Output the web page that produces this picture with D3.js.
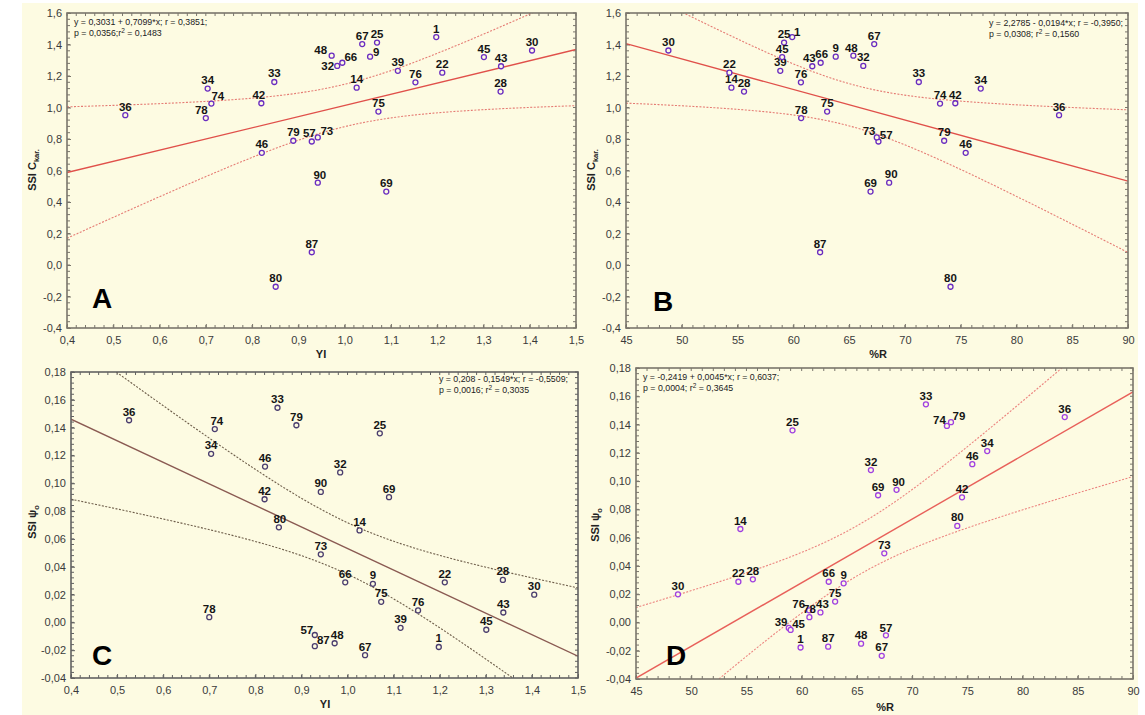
<!DOCTYPE html>
<html><head><meta charset="utf-8">
<script src="https://cdn.jsdelivr.net/npm/d3@7"></script>
<style>body{margin:0;background:#fff} svg{display:block} text{font-family:"Liberation Sans",Arial,sans-serif}</style>
</head><body><svg id="c" width="1145" height="715"></svg>
<script>
// ---------- DATA ----------
const ids      = [1, 9, 14, 22, 25, 28, 30, 32, 33, 34, 36, 39, 42, 43, 45, 46, 48, 57, 66, 67, 69, 73, 74, 75, 76, 78, 79, 80, 87, 90];
const yiValues = [1.198, 1.055, 1.026, 1.211, 1.070, 1.337, 1.405, 0.984, 0.848, 0.704, 0.526, 1.115, 0.820, 1.338, 1.301, 0.821, 0.972, 0.929, 0.995, 1.038, 1.090, 0.942, 0.712, 1.073, 1.153, 0.700, 0.889, 0.851, 0.929, 0.942];
const rValues  = [59.9, 63.8, 54.45, 54.27, 59.17, 55.58, 48.8, 66.27, 71.25, 76.8, 83.82, 58.83, 74.52, 61.7, 59.0, 75.45, 65.38, 67.63, 62.45, 67.25, 66.92, 67.48, 73.15, 63.03, 60.68, 60.7, 73.52, 74.09, 62.4, 68.59];
const ssiC     = [1.447, 1.323, 1.126, 1.221, 1.412, 1.101, 1.362, 1.264, 1.162, 1.120, 0.951, 1.233, 1.027, 1.262, 1.320, 0.712, 1.329, 0.784, 1.284, 1.403, 0.466, 0.810, 1.025, 0.974, 1.160, 0.933, 0.789, -0.138, 0.081, 0.523];
const ssiPsi   = [-0.0177, 0.0277, 0.0661, 0.0288, 0.1359, 0.0305, 0.0199, 0.1078, 0.1543, 0.1212, 0.1453, -0.0039, 0.0885, 0.0071, -0.0053, 0.1120, -0.0150, -0.0091, 0.0288, -0.0236, 0.0900, 0.0489, 0.1390, 0.0148, 0.0086, 0.0037, 0.1417, 0.0683, -0.0171, 0.0938];

const xTicksYI  = [0.4, 0.5, 0.6, 0.7, 0.8, 0.9, 1.0, 1.1, 1.2, 1.3, 1.4, 1.5];
const xTicksR   = [45, 50, 55, 60, 65, 70, 75, 80, 85, 90];
const yTicksC   = [-0.4, -0.2, 0.0, 0.2, 0.4, 0.6, 0.8, 1.0, 1.2, 1.4, 1.6];
const yTicksPsi = [-0.04, -0.02, 0.00, 0.02, 0.04, 0.06, 0.08, 0.10, 0.12, 0.14, 0.16, 0.18];

const panelLetters = ["A", "B", "C", "D"];
const intercepts   = [0.3031, 2.2785, 0.208, -0.2419];
const slopes       = [0.7099, -0.0194, -0.1549, 0.0045];
const eqLine1 = ["y = 0,3031 + 0,7099*x;  r = 0,3851;", "y = 2,2785 - 0,0194*x; r = -0,3950;", "y = 0,208 - 0,1549*x;  r = -0,5509;", "y = -0,2419 + 0,0045*x; r = 0,6037;"];
const eqP     = ["p = 0,0356;", "p = 0,0308; ", "p = 0,0016; ", "p = 0,0004; "];
const eqR2    = ["0,1483", "0,1560", "0,3035", "0,3645"];
const xTitles = ["YI", "%R", "YI", "%R"];
const yTitleMain = ["SSI C", "SSI C", "SSI \u03C8", "SSI \u03C8"];
const yTitleSub  = ["kar.", "kar.", "o", "o"];

// ---------- LAYOUT / STYLE (not data) ----------
// eq: [x, baseline, anchor]  anchor "start" = x is left edge, "end" = x is right edge of first line
const layout = [
  {x0:67, x1:576, y0:13, y1:328, letter:[92,308], eq:[74,25,"start"], yt:[32,170], xt:[321,358]},
  {x0:626,x1:1128,y0:13, y1:328, letter:[653,311], eq:[1123,26,"end"], yt:[591,170], xt:[878,358]},
  {x0:71, x1:578, y0:372,y1:678, letter:[92,665], eq:[568,382,"end"], yt:[32,522], xt:[325,708]},
  {x0:636,x1:1133,y0:368,y1:679, letter:[666,665], eq:[643,380,"start"], yt:[595,525], xt:[885,711]}
];
const styles = [
  {line:"#e0504a", band:"#e57c74", marker:"#6a2cc0", frame:"#7a766c"},
  {line:"#e0504a", band:"#e57c74", marker:"#6a2cc0", frame:"#7a766c"},
  {line:"#8a5a52", band:"#6e5e4a", marker:"#4a3d6e", frame:"#626262"},
  {line:"#e8605a", band:"#ec8580", marker:"#a040e0", frame:"#7a766c"}
];
// label offsets [dx, dy of label centre relative to point]; default [0,-8.5]
const labelOffsets = [
  {78:[-4.5,-8], 74:[6.5,-8], 73:[9,-6], 57:[-2.5,-8.5], 48:[-11,-5.5], 32:[-9.5,0], 66:[8.5,-6], 9:[6,-5], 42:[-2.5,-8.5], 90:[2,-8]},
  {1:[5,-5.5], 73:[-7.7,-6], 57:[7.7,-6.3], 43:[-3,-8.3], 66:[1,-8.5], 48:[-2,-8], 90:[2,-8.3]},
  {57:[-8,-5], 87:[8.5,-6], 48:[2.5,-8], 74:[2,-7.7], 80:[1,-8]},
  {74:[-7.5,-6.3], 79:[8,-6], 76:[-10.5,-6.3], 39:[-7.7,-6.3], 45:[8,-6.3], 43:[2,-8.3], 90:[2,-8], 57:[0,-7.7]}
];

const panelX = [yiValues, rValues, yiValues, rValues];
const panelY = [ssiC, ssiC, ssiPsi, ssiPsi];
const panelXT = [xTicksYI, xTicksR, xTicksYI, xTicksR];
const panelYT = [yTicksC, yTicksC, yTicksPsi, yTicksPsi];
const xFmt = [".1f", "d", ".1f", "d"];
const yFmt = [".1f", ".1f", ".2f", ".2f"];

const svg = d3.select("#c");
svg.append("rect").attr("x",22).attr("y",3).attr("width",1116).attr("height",712).attr("fill","#fdfbe2");

const fmt = f => { const F = d3.format(f); return v => F(v).replace(".", ",").replace("\u2212","-"); };
const T = 2.0484; // t(0.975, df=28)

panelLetters.forEach((L, i) => {
  const p = layout[i], st = styles[i];
  const xs = panelX[i], ys = panelY[i], xt = panelXT[i], yt = panelYT[i];
  const x = d3.scaleLinear().domain([xt[0], xt[xt.length-1]]).range([p.x0, p.x1]);
  const y = d3.scaleLinear().domain([yt[0], yt[yt.length-1]]).range([p.y1, p.y0]);
  const g = svg.append("g");

  const cid = "clip" + i;
  svg.append("clipPath").attr("id", cid).append("rect")
    .attr("x", p.x0).attr("y", p.y0).attr("width", p.x1 - p.x0).attr("height", p.y1 - p.y0);

  // minor ticks on all sides
  const xStep = (xt[1]-xt[0]) / 5, yStep = (yt[1]-yt[0]) / 5;
  const mx = d3.range(0, Math.round((xt[xt.length-1]-xt[0])/xStep)+1).map(k => xt[0] + k*xStep);
  const my = d3.range(0, Math.round((yt[yt.length-1]-yt[0])/yStep)+1).map(k => yt[0] + k*yStep);
  const tk = g.append("g").attr("stroke", st.frame).attr("stroke-width", 1);
  mx.forEach(v => {
    tk.append("line").attr("x1", x(v)).attr("x2", x(v)).attr("y1", p.y1).attr("y2", p.y1 - 3);
    tk.append("line").attr("x1", x(v)).attr("x2", x(v)).attr("y1", p.y0).attr("y2", p.y0 + 3);
  });
  my.forEach(v => {
    tk.append("line").attr("y1", y(v)).attr("y2", y(v)).attr("x1", p.x0).attr("x2", p.x0 + 3);
    tk.append("line").attr("y1", y(v)).attr("y2", y(v)).attr("x1", p.x1).attr("x2", p.x1 - 3);
  });

  // axes (labels)
  const ax = g.append("g").attr("transform", `translate(0,${p.y1})`)
    .call(d3.axisBottom(x).tickValues(xt).tickFormat(fmt(xFmt[i])).tickSize(-4).tickPadding(8));
  const ay = g.append("g").attr("transform", `translate(${p.x0},0)`)
    .call(d3.axisLeft(y).tickValues(yt).tickFormat(fmt(yFmt[i])).tickSize(-4).tickPadding(5));
  [ax, ay].forEach(a => {
    a.select(".domain").remove();
    a.selectAll(".tick line").attr("stroke", st.frame);
    a.selectAll("text").attr("font-size", 11).attr("fill", "#3a3a3a").attr("font-family", "'Liberation Sans',Arial,sans-serif");
  });

  // regression line + confidence band
  const a0 = intercepts[i], b0 = slopes[i], n = xs.length;
  const xbar = d3.mean(xs);
  const Sxx = d3.sum(xs, v => (v - xbar) ** 2);
  const SSE = d3.sum(xs.map((v, k) => (ys[k] - (a0 + b0 * v)) ** 2));
  const s = Math.sqrt(SSE / (n - 2));
  const dom = x.domain();
  const grid = d3.range(0, 201).map(k => dom[0] + (dom[1]-dom[0]) * k / 200);
  const hw = v => T * s * Math.sqrt(1/n + (v - xbar) ** 2 / Sxx);
  const lg = g.append("g").attr("clip-path", `url(#${cid})`).attr("fill", "none");
  const ln = d3.line().x(d => x(d[0])).y(d => y(d[1]));
  lg.append("path").attr("d", ln(grid.map(v => [v, a0 + b0*v + hw(v)])))
    .attr("stroke", st.band).attr("stroke-width", 1.1).attr("stroke-dasharray", "2,1.5");
  lg.append("path").attr("d", ln(grid.map(v => [v, a0 + b0*v - hw(v)])))
    .attr("stroke", st.band).attr("stroke-width", 1.1).attr("stroke-dasharray", "2,1.5");
  lg.append("path").attr("d", ln(dom.map(v => [v, a0 + b0*v])))
    .attr("stroke", st.line).attr("stroke-width", 1.4);

  // frame
  g.append("rect").attr("x", p.x0).attr("y", p.y0).attr("width", p.x1 - p.x0).attr("height", p.y1 - p.y0)
    .attr("fill", "none").attr("stroke", st.frame).attr("stroke-width", 1.6);

  // points
  const pg = g.append("g");
  ids.forEach((id, k) => {
    const px = x(xs[k]), py = y(ys[k]);
    pg.append("circle").attr("cx", px).attr("cy", py).attr("r", 2.5)
      .attr("fill", "#fdfbe2").attr("stroke", st.marker).attr("stroke-width", 1.3);
    const o = labelOffsets[i][id] || [0, -8.5];
    pg.append("text").attr("x", px + o[0]).attr("y", py + o[1] + 4)
      .attr("text-anchor", "middle").attr("font-size", 11.5).attr("font-weight", "bold")
      .attr("fill", "#151515").text(id);
  });

  // equation text (both lines left-aligned on a common x)
  const et = g.append("g").attr("font-size", 8.8).attr("fill", "#222");
  const t1 = et.append("text").attr("y", p.eq[1]).text(eqLine1[i]);
  const w1 = t1.node().getComputedTextLength();
  const ex = p.eq[2] === "end" ? p.eq[0] - w1 : p.eq[0];
  t1.attr("x", ex);
  const t2 = et.append("text").attr("x", ex).attr("y", p.eq[1] + 11);
  t2.append("tspan").text(eqP[i] + "r");
  t2.append("tspan").attr("dy", -3.5).attr("font-size", 6.5).text("2");
  t2.append("tspan").attr("dy", 3.5).text(" = " + eqR2[i]);

  // panel letter
  g.append("text").attr("x", p.letter[0]).attr("y", p.letter[1]).attr("font-size", 28)
    .attr("font-weight", "bold").attr("fill", "#000").text(L);

  // axis titles
  g.append("text").attr("x", p.xt[0]).attr("y", p.xt[1]).attr("text-anchor", "middle")
    .attr("font-size", 11).attr("font-weight", "bold").attr("fill", "#222").text(xTitles[i]);
  const yt2 = g.append("text").attr("transform", `translate(${p.yt[0] + 4},${p.yt[1]}) rotate(-90)`)
    .attr("text-anchor", "middle").attr("font-size", 11).attr("font-weight", "bold").attr("fill", "#222");
  yt2.append("tspan").text(yTitleMain[i]);
  yt2.append("tspan").attr("dy", 3).attr("font-size", 7.5).text(yTitleSub[i]);
});
</script>
</body></html>
